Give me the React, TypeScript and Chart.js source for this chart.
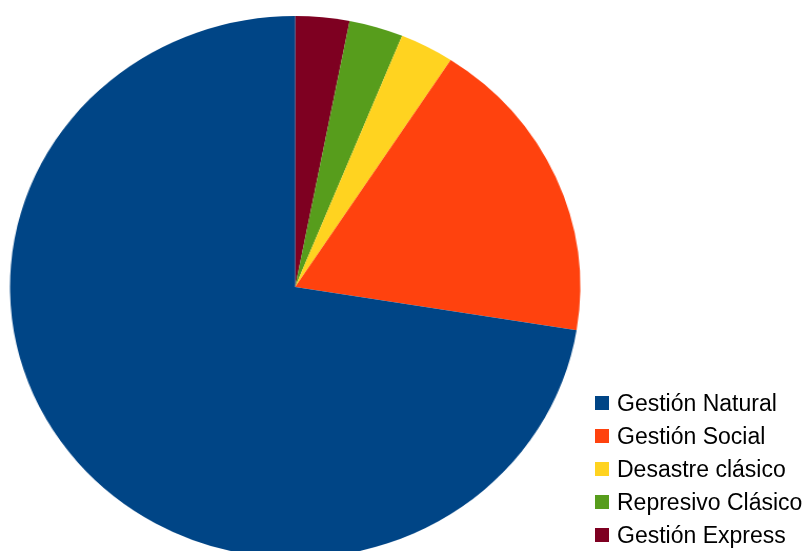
import React, { useEffect, useRef } from "react";
import { Chart, registerables } from "chart.js";

Chart.register(...registerables);

// Legend order (as in the reference)
const categories = [
  "Gestión Natural",
  "Gestión Social",
  "Desastre clásico",
  "Represivo Clásico",
  "Gestión Express",
];
const values = [71, 18, 3, 3, 3];
const colors = ["#004586", "#ff420e", "#ffd320", "#579d1c", "#7e0021"];

export default function App() {
  const canvasRef = useRef<HTMLCanvasElement | null>(null);

  useEffect(() => {
    if (!canvasRef.current) return;
    // The reference draws slices counter-clockwise from 12 o'clock; Chart.js goes clockwise,
    // so feed the dataset in reverse order.
    const labels = [...categories].reverse();
    const data = [...values].reverse();
    const bg = [...colors].reverse();
    const chart = new Chart(canvasRef.current, {
      type: "pie",
      data: {
        labels,
        datasets: [
          {
            data,
            backgroundColor: bg,
            borderWidth: 0,
            clip: false as any,
          },
        ],
      },
      options: {
        responsive: false,
        animation: false,
        radius: 271,
        layout: { padding: { top: 23, right: 207, left: 0, bottom: 0 } },
        plugins: {
          legend: { display: false },
          tooltip: { enabled: false },
        },
      } as any,
    });
    return () => chart.destroy();
  }, []);

  return (
    <div
      style={{
        position: "absolute",
        left: 0,
        top: 0,
        width: 808,
        height: 551,
        overflow: "hidden",
        background: "#ffffff",
      }}
    >
      <canvas
        ref={canvasRef}
        width={768}
        height={551}
        style={{ width: 808, height: 551, display: "block" }}
      />
      <div
        style={{
          position: "absolute",
          left: 595,
          top: 387,
          fontFamily: '"Liberation Sans", Arial, sans-serif',
          fontSize: 23,
          color: "#000000",
        }}
      >
        {categories.map((c, i) => (
          <div
            key={c}
            style={{
              position: "relative",
              height: 33,
              lineHeight: "33px",
              whiteSpace: "nowrap",
            }}
          >
            <span
              style={{
                position: "absolute",
                left: 0,
                top: 9,
                width: 14,
                height: 14,
                background: colors[i],
              }}
            />
            <span style={{ position: "absolute", left: 22, top: 0 }}>{c}</span>
          </div>
        ))}
      </div>
    </div>
  );
}
